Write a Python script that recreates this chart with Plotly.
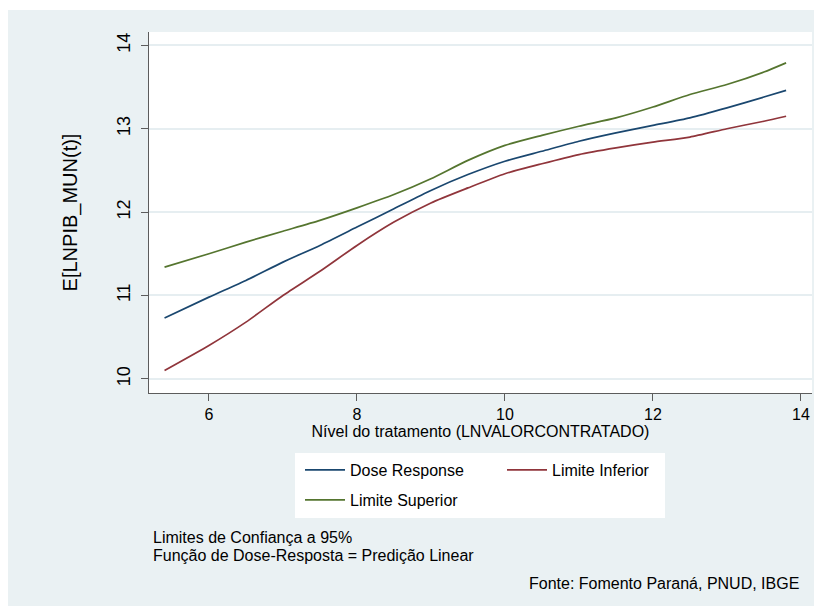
import plotly.graph_objects as go

# Treatment level (x) values
x_vals = [5.4, 6.0, 6.5, 7.0, 7.5, 8.0, 8.5, 9.0, 9.5, 10.0, 10.5, 11.0, 11.5, 12.0, 12.5, 13.0, 13.5, 13.8]

# Series values
dose_response = [10.73, 10.98, 11.18, 11.40, 11.60, 11.82, 12.04, 12.26, 12.45, 12.61, 12.73, 12.85, 12.95, 13.04, 13.13, 13.25, 13.38, 13.46]
limite_inferior = [10.10, 10.40, 10.68, 11.00, 11.29, 11.60, 11.88, 12.11, 12.29, 12.46, 12.58, 12.69, 12.77, 12.84, 12.90, 13.00, 13.09, 13.15]
limite_superior = [11.34, 11.50, 11.64, 11.77, 11.90, 12.05, 12.21, 12.40, 12.62, 12.80, 12.92, 13.03, 13.13, 13.26, 13.41, 13.53, 13.68, 13.79]

x_ticks = [6, 8, 10, 12, 14]
y_ticks = [10, 11, 12, 13, 14]

FONT = "Arial, Liberation Sans, sans-serif"
BG = "#EAF1F3"
GRID = "#E6EEF1"
AXIS = "#5C5C5C"

W, H = 822, 606
L, R, T, B = 141, 18, 24, 221
PW, PH = W - L - R, H - T - B


def px_x(px):
    return (px - L) / PW


def px_y(py):
    return (H - B - py) / PH


fig = go.Figure()
fig.add_trace(go.Scatter(x=x_vals, y=dose_response, mode="lines", name="Dose Response",
                         line=dict(color="#1A476F", width=1.7, shape="spline", smoothing=0.6),
                         legend="legend"))
fig.add_trace(go.Scatter(x=x_vals, y=limite_inferior, mode="lines", name="Limite Inferior",
                         line=dict(color="#90353B", width=1.7, shape="spline", smoothing=0.6),
                         legend="legend"))
fig.add_trace(go.Scatter(x=x_vals, y=limite_superior, mode="lines", name="Limite Superior",
                         line=dict(color="#55752F", width=1.7, shape="spline", smoothing=0.6),
                         legend="legend2"))

shapes = [
    # thin white strip at the top of the graph region
    dict(type="rect", xref="paper", yref="paper", x0=px_x(-5), x1=px_x(W + 5), y0=px_y(2), y1=px_y(-5),
         fillcolor="white", line=dict(width=0), layer="below"),
    # legend box
    dict(type="rect", xref="paper", yref="paper", x0=px_x(287), x1=px_x(657), y0=px_y(510), y1=px_y(445),
         fillcolor="white", line=dict(width=0), layer="below"),
]

annotations = [
    dict(text="Limites de Confiança a 95%", xref="paper", yref="paper", x=px_x(143), y=px_y(529),
         xanchor="left", yanchor="middle", showarrow=False, font=dict(family=FONT, size=16, color="black")),
    dict(text="Função de Dose-Resposta = Predição Linear", xref="paper", yref="paper", x=px_x(143), y=px_y(547),
         xanchor="left", yanchor="middle", showarrow=False, font=dict(family=FONT, size=16, color="black")),
    dict(text="Fonte: Fomento Paraná, PNUD, IBGE", xref="paper", yref="paper", x=px_x(793), y=px_y(575),
         xanchor="right", yanchor="middle", showarrow=False, font=dict(family=FONT, size=16, color="black")),
]

fig.update_layout(
    width=W, height=H,
    margin=dict(l=L, r=R, t=T, b=B, autoexpand=False),
    paper_bgcolor=BG, plot_bgcolor="white",
    font=dict(family=FONT, color="black"),
    shapes=shapes, annotations=annotations,
    legend=dict(orientation="h", x=px_x(292), y=px_y(445), xanchor="left", yanchor="top",
                bgcolor="rgba(0,0,0,0)", font=dict(family=FONT, size=16, color="black"),
                entrywidth=147, entrywidthmode="pixels", itemwidth=40),
    legend2=dict(orientation="h", x=px_x(292), y=px_y(475), xanchor="left", yanchor="top",
                 bgcolor="rgba(0,0,0,0)", font=dict(family=FONT, size=16, color="black"),
                 itemwidth=40),
)

fig.update_xaxes(
    range=[5.19, 14.15], tickvals=x_ticks, ticktext=[str(v) for v in x_ticks],
    showgrid=False, zeroline=False, showline=True, linecolor=AXIS, linewidth=1.2,
    ticks="outside", ticklen=7, tickcolor=AXIS, tickwidth=1.2,
    tickfont=dict(family=FONT, size=16, color="black"),
    title=dict(text="Nível do tratamento (LNVALORCONTRATADO)", font=dict(family=FONT, size=16, color="black"),
               standoff=2),
    automargin=False,
)
fig.update_yaxes(
    range=[9.83, 14.16], tickvals=y_ticks, ticktext=[str(v) for v in y_ticks],
    showgrid=True, gridcolor=GRID, gridwidth=1.5, zeroline=False,
    showline=True, linecolor=AXIS, linewidth=1.2,
    ticks="outside", ticklen=7, tickcolor=AXIS, tickwidth=1.2, tickangle=-90,
    tickfont=dict(family=FONT, size=18, color="black"), ticklabelstandoff=4,
    title=dict(text="E[LNPIB_MUN(t)]", font=dict(family=FONT, size=20, color="black"), standoff=30),
    automargin=False,
)

fig.write_html("out.html")
